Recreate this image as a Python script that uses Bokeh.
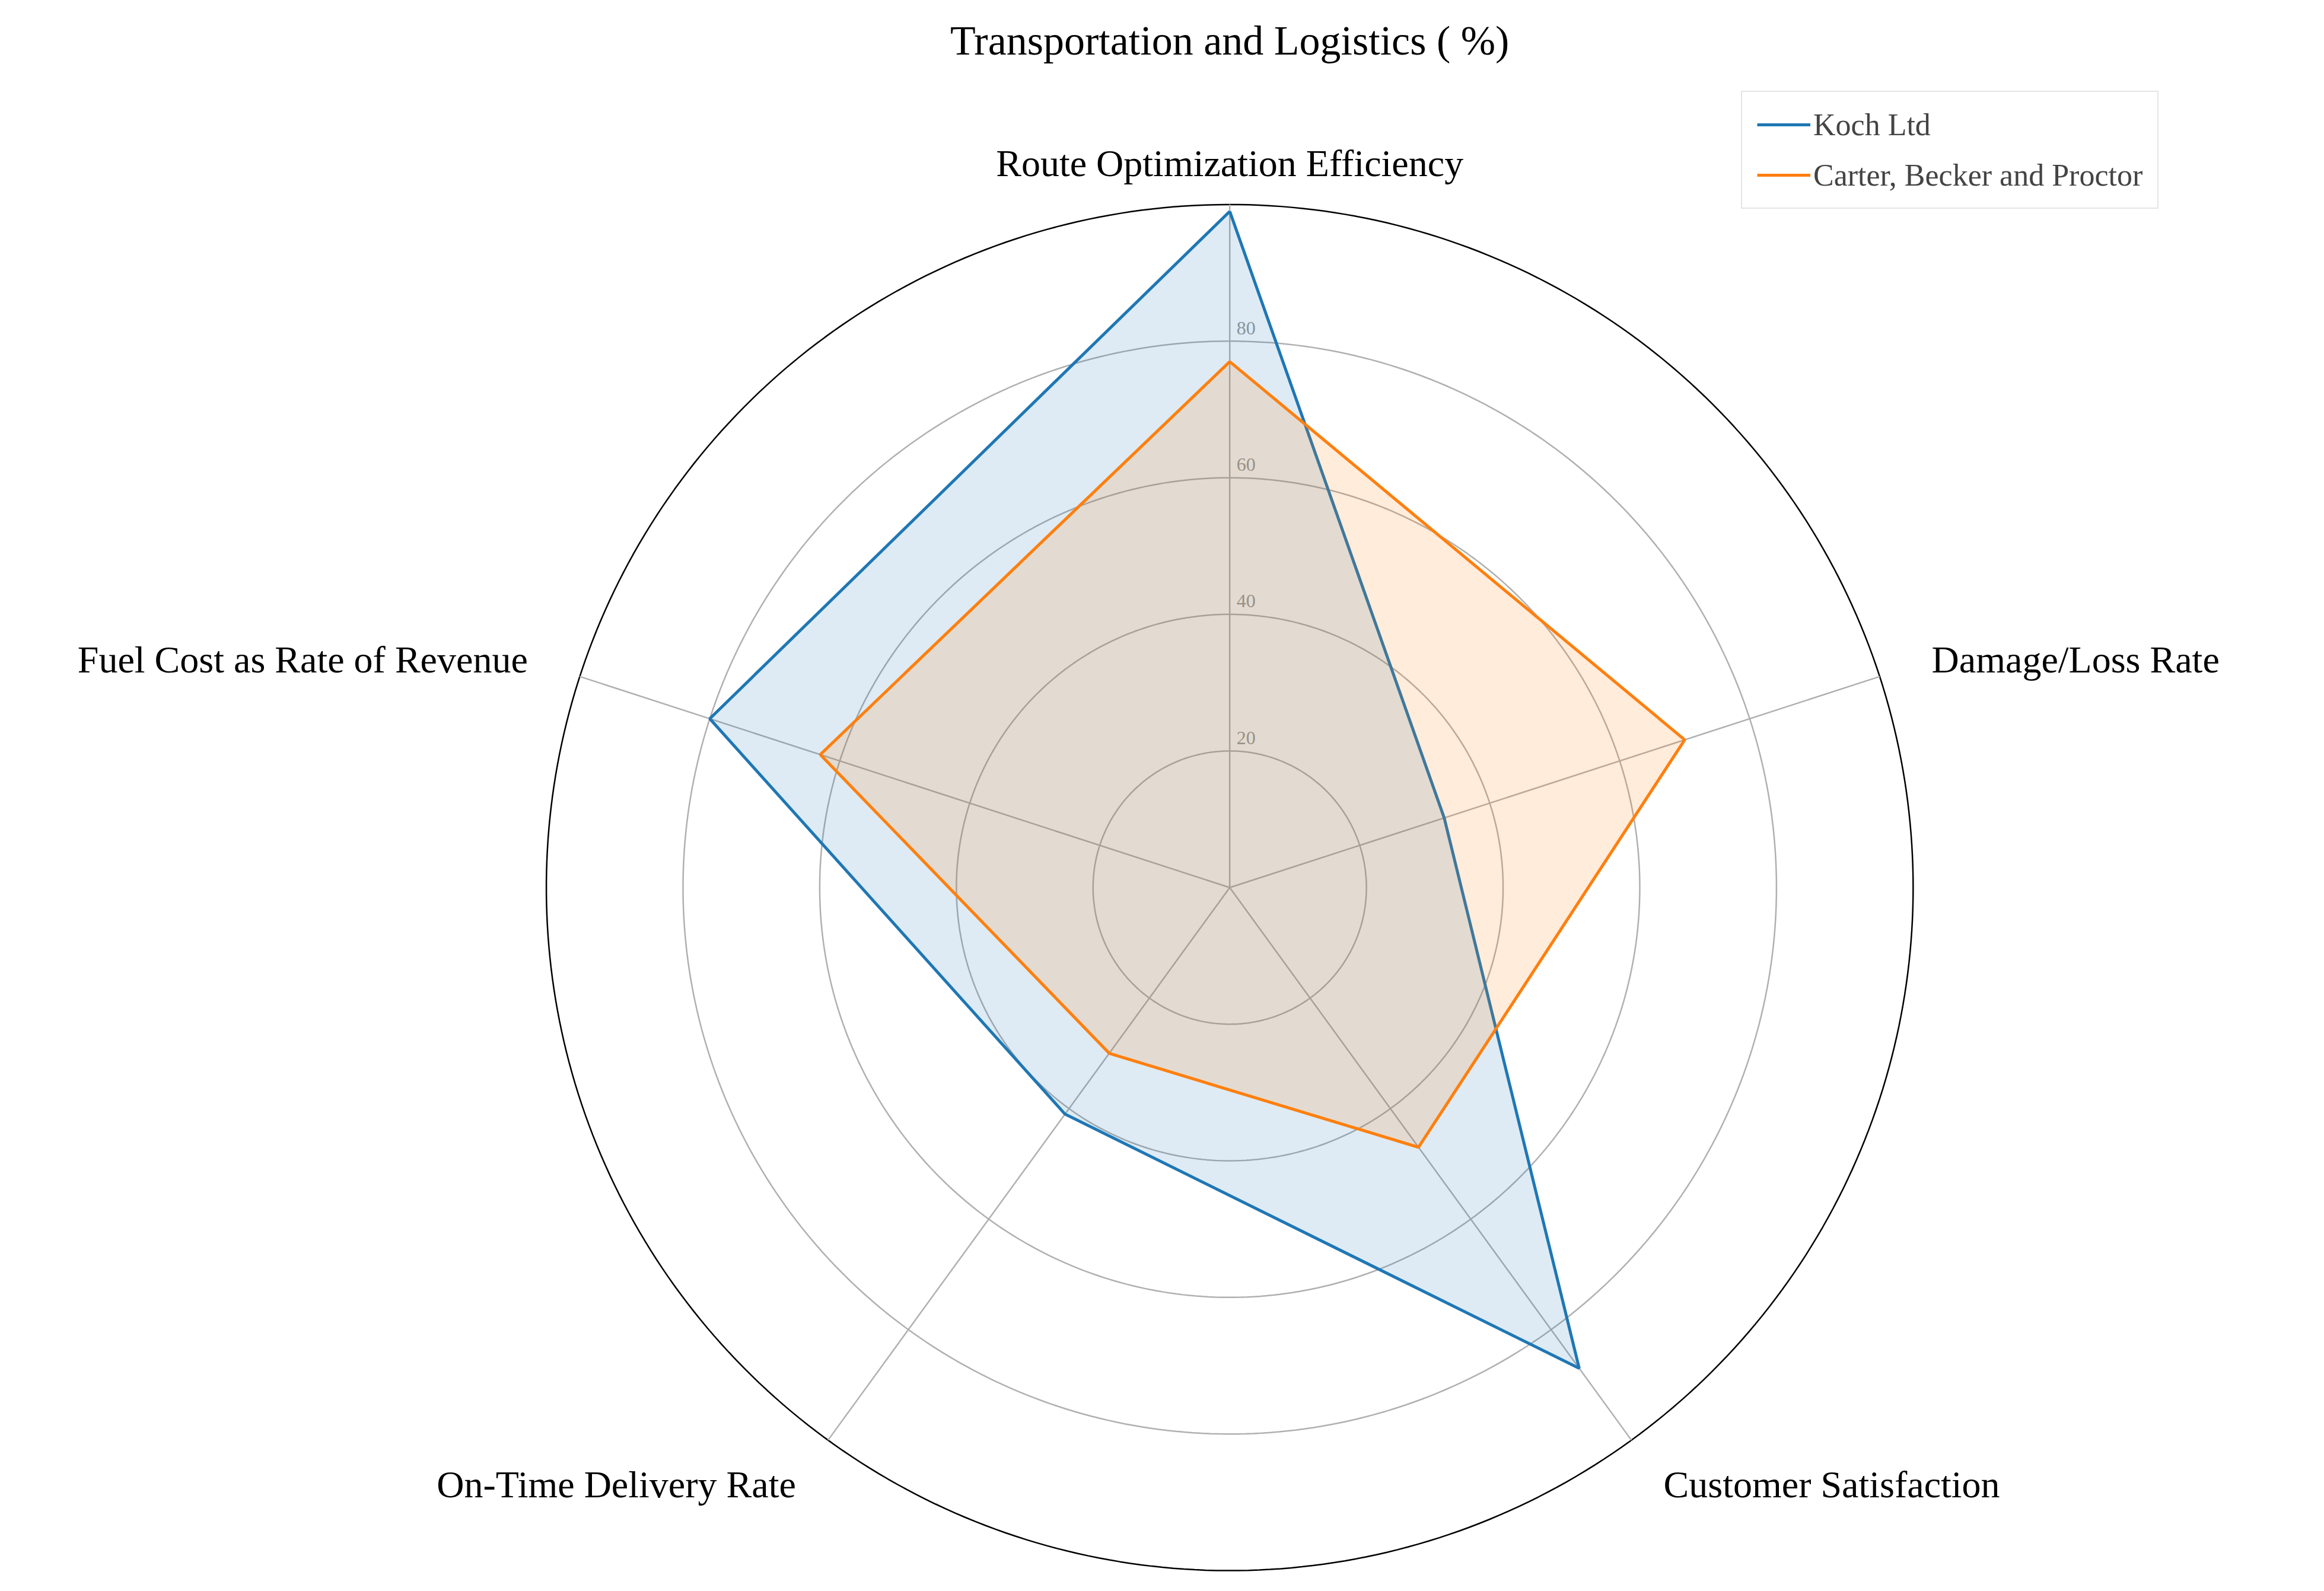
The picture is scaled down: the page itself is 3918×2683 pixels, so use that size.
import numpy as np
from bokeh.plotting import figure
from bokeh.models import Legend, LegendItem
from bokeh.core.properties import value
from bokeh.embed import file_html
from bokeh.resources import INLINE

categories = ["Route Optimization Efficiency", "Damage/Loss Rate", "Customer Satisfaction",
              "On-Time Delivery Rate", "Fuel Cost as Rate of Revenue"]
koch = [99, 33, 87, 41, 80]
carter = [77, 70, 47, 30, 63]
ticks = [20, 40, 60, 80]
series = [("Koch Ltd", koch, "#1f77b4"), ("Carter, Becker and Proctor", carter, "#ff7f0e")]

FONT = value("Liberation Serif")
W, H = 3900, 2670
p = figure(width=W, height=H, x_range=(-179.9, 158.6), y_range=(-101.9, 129.9),
           output_backend="svg", toolbar_location=None, min_border=0)
p.axis.visible = False
p.grid.visible = False
p.outline_line_color = None

ang = np.pi / 2 - np.arange(len(categories)) * 2 * np.pi / len(categories)
t = np.linspace(0, 2 * np.pi, 400)
for r in ticks:
    p.line(r * np.cos(t), r * np.sin(t), line_color="#b0b0b0", line_width=2.5)
p.line(100 * np.cos(t), 100 * np.sin(t), line_color="black", line_width=2.5)
for a in ang:
    p.line([0, 100 * np.cos(a)], [0, 100 * np.sin(a)], line_color="#b0b0b0", line_width=2.5)
p.text([1] * len(ticks), [v + 1 for v in ticks], text=[str(v) for v in ticks],
       text_font=FONT, text_font_size="32px", text_color="#999999", text_baseline="bottom")

items = []
for name, vals, col in series:
    xs = [v * np.cos(a) for v, a in zip(vals, ang)]
    ys = [v * np.sin(a) for v, a in zip(vals, ang)]
    p.patch(xs, ys, fill_color=col, fill_alpha=0.15, line_color=None)
    r = p.line(xs + xs[:1], ys + ys[:1], line_color=col, line_width=5)
    items.append(LegendItem(label=name, renderers=[r]))

for c, a in zip(categories, ang):
    ca = np.cos(a)
    align = "left" if ca > 0.1 else ("right" if ca < -0.1 else "center")
    rr = 106 if align == "center" else 108
    p.text([rr * ca], [rr * np.sin(a)], text=[c], text_font=FONT, text_font_size="64px",
           text_align=align, text_baseline="middle", text_color="black")

p.text([0], [124], text=["Transportation and Logistics ( %)"], text_font=FONT,
       text_font_size="70px", text_align="center", text_baseline="middle")

leg = Legend(items=items, location=(2935, 2318), label_text_font="Liberation Serif",
             label_text_font_size="52px", glyph_width=90, glyph_height=40,
             label_height=60, spacing=25, padding=25, border_line_color="#cccccc",
             border_line_width=2.5)
p.add_layout(leg, "center")

open("out.html", "w").write(file_html(p, INLINE))
